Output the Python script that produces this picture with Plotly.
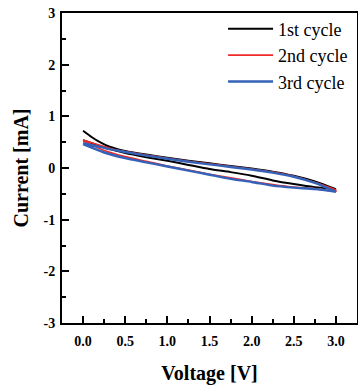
import plotly.graph_objects as go

# Cycle 1 (black)
v1_fwd = [0.0, 0.1, 0.2, 0.3, 0.4, 0.5, 0.75, 1.0, 1.25, 1.5, 1.75, 2.0, 2.25, 2.5, 2.75, 3.0]
i1_fwd = [0.72, 0.60, 0.50, 0.42, 0.37, 0.33, 0.26, 0.20, 0.14, 0.09, 0.04, -0.01, -0.07, -0.15, -0.26, -0.41]
v1_rev = [3.0, 2.75, 2.5, 2.25, 2.0, 1.75, 1.5, 1.25, 1.0, 0.75, 0.5, 0.25, 0.0]
i1_rev = [-0.41, -0.37, -0.31, -0.24, -0.15, -0.08, -0.02, 0.06, 0.14, 0.21, 0.29, 0.40, 0.54]

# Cycle 2 (red)
v2_fwd = [0.0, 0.1, 0.2, 0.3, 0.4, 0.5, 0.75, 1.0, 1.25, 1.5, 1.75, 2.0, 2.25, 2.5, 2.75, 3.0]
i2_fwd = [0.54, 0.49, 0.44, 0.39, 0.35, 0.32, 0.25, 0.19, 0.13, 0.08, 0.03, -0.02, -0.08, -0.16, -0.28, -0.43]
v2_rev = [3.0, 2.75, 2.5, 2.25, 2.0, 1.75, 1.5, 1.25, 1.0, 0.75, 0.5, 0.25, 0.0]
i2_rev = [-0.45, -0.40, -0.37, -0.32, -0.26, -0.19, -0.12, -0.04, 0.04, 0.13, 0.22, 0.34, 0.52]

# Cycle 3 (blue)
v3_fwd = [0.0, 0.1, 0.2, 0.3, 0.4, 0.5, 0.75, 1.0, 1.25, 1.5, 1.75, 2.0, 2.25, 2.5, 2.75, 3.0]
i3_fwd = [0.48, 0.44, 0.41, 0.37, 0.34, 0.31, 0.24, 0.18, 0.12, 0.07, 0.02, -0.03, -0.09, -0.17, -0.29, -0.46]
v3_rev = [3.0, 2.75, 2.5, 2.25, 2.0, 1.75, 1.5, 1.25, 1.0, 0.75, 0.5, 0.25, 0.0]
i3_rev = [-0.46, -0.41, -0.38, -0.34, -0.27, -0.21, -0.13, -0.05, 0.03, 0.11, 0.19, 0.30, 0.46]

names = ["1st cycle", "2nd cycle", "3rd cycle"]
x_ticks = [0.0, 0.5, 1.0, 1.5, 2.0, 2.5, 3.0]
x_labels = ["0.0", "0.5", "1.0", "1.5", "2.0", "2.5", "3.0"]
y_ticks = [-3, -2, -1, 0, 1, 2, 3]
y_labels = ["-3", "-2", "-1", "0", "1", "2", "3"]

serif = "Liberation Serif"

fig = go.Figure()
series = [
    (v1_fwd + v1_rev, i1_fwd + i1_rev, "#000000", 2.0),
    (v2_fwd + v2_rev, i2_fwd + i2_rev, "#ee2a2a", 1.6),
    (v3_fwd + v3_rev, i3_fwd + i3_rev, "#3462b8", 2.4),
]
for (xs, ys, col, w), nm in zip(series, names):
    fig.add_trace(go.Scatter(x=xs, y=ys, mode="lines", name=nm,
                             line=dict(color=col, width=w, shape="spline", smoothing=0.6)))

axis_common = dict(
    showline=True, linecolor="black", linewidth=2, mirror=True,
    ticks="inside", ticklen=7, tickwidth=1.5, tickcolor="black",
    showgrid=False, zeroline=False, automargin=False,
    ticklabeloverflow="allow",
    tickfont=dict(family=serif, size=14, color="black", weight="bold"),
)

fig.update_layout(
    width=358, height=385,
    margin=dict(l=62, r=1, t=13, b=62, autoexpand=False),
    paper_bgcolor="white", plot_bgcolor="white",
    showlegend=True,
    legend=dict(x=0.546, y=1.008, xanchor="left", yanchor="top",
                bgcolor="rgba(0,0,0,0)", borderwidth=0,
                font=dict(family=serif, size=18, color="black"),
                itemwidth=45, tracegroupgap=0),
    xaxis=dict(range=[-0.25, 3.25], tickvals=x_ticks, ticktext=x_labels,
               minor=dict(ticks="inside", ticklen=4, tickwidth=1.5, tickcolor="black", dtick=0.25),
               title=dict(text="Voltage [V]", font=dict(family=serif, size=20, color="black", weight="bold"),
                          standoff=19),
               ticklabelstandoff=4,
               **axis_common),
    yaxis=dict(range=[-3, 3], tickvals=y_ticks, ticktext=y_labels,
               minor=dict(ticks="inside", ticklen=4, tickwidth=1.5, tickcolor="black", dtick=0.5),
               title=dict(text="Current [mA]", font=dict(family=serif, size=20, color="black", weight="bold"),
                          standoff=10),
               ticklabelstandoff=2,
               **axis_common),
)

# remove the page's default body margin so the figure fills the window exactly
fig.write_html("out.html", config={"displayModeBar": False},
               post_script="document.body.style.margin='0';document.body.style.overflow='hidden';")
